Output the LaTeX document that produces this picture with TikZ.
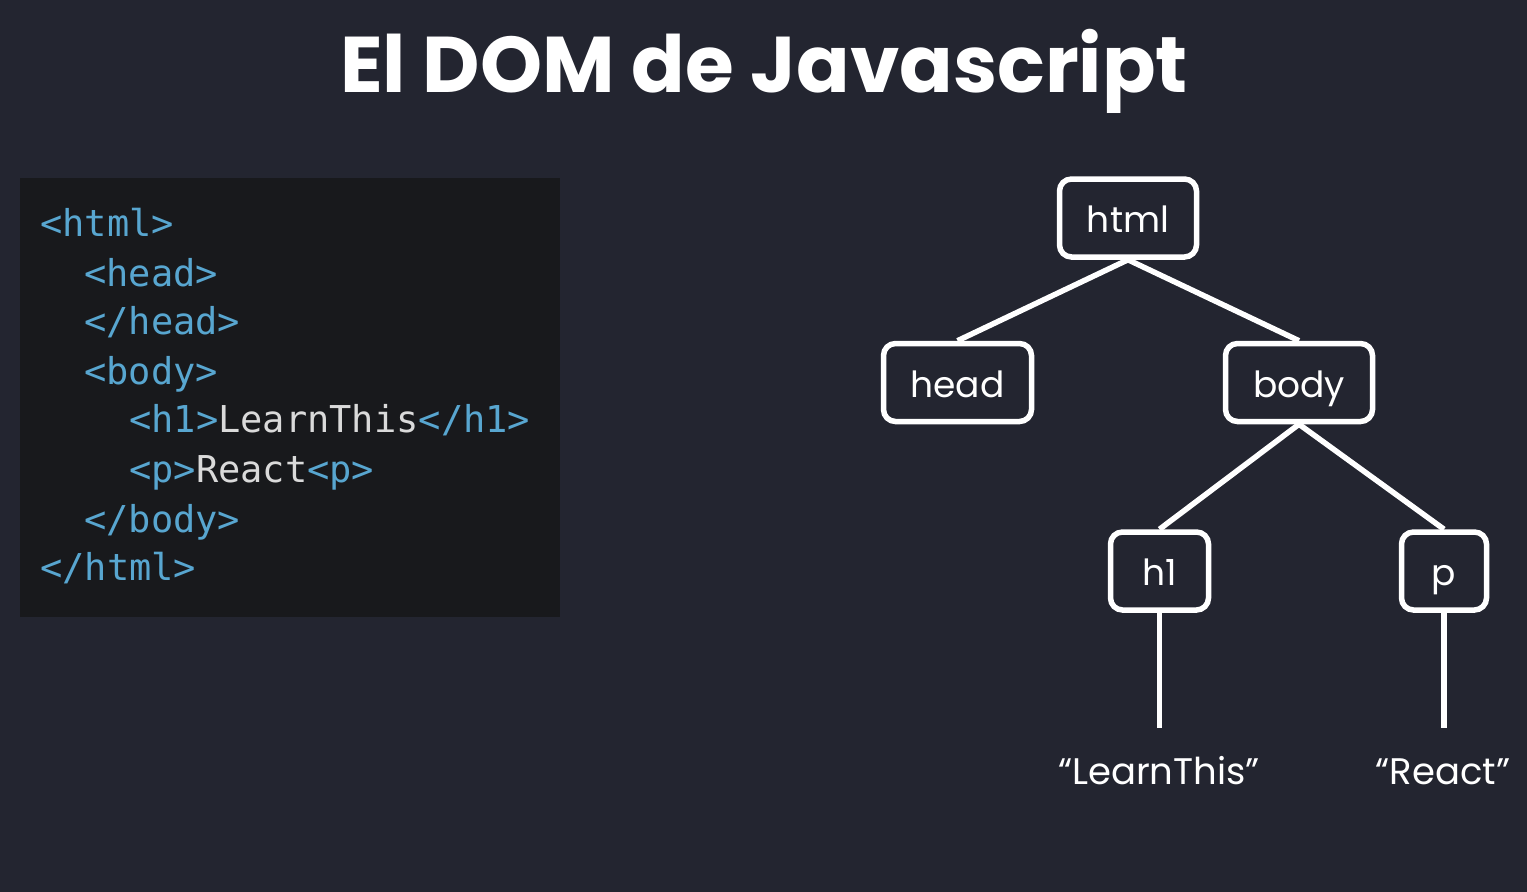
\documentclass[tikz,border=0pt]{standalone}
\usepackage{fontspec}
\newfontfamily\pop{Poppins}
\newfontfamily\mono{DejaVu Sans Mono}
\definecolor{bg}{RGB}{35,37,48}
\definecolor{codebg}{RGB}{24,25,28}
\definecolor{tag}{RGB}{88,166,208}
\definecolor{txt}{RGB}{218,218,218}
\tikzset{
  domnode/.style={draw=white, line width=5.5pt, rounded corners=12pt, inner sep=0pt,
    text=white, font=\pop\fontsize{36pt}{36pt}\selectfont, minimum height=78pt,
    text height=30pt, text depth=1pt},
  edge/.style={draw=white, line width=5.5pt},
  leaf/.style={text=white, font=\pop\fontsize{37pt}{37pt}\selectfont, inner sep=0pt, anchor=base},
  codeline/.style={anchor=base west, inner sep=0pt, text=tag, font=\mono\fontsize{37pt}{37pt}\selectfont}
}
\begin{document}
\begin{tikzpicture}[x=1pt,y=-1pt]
\fill[bg] (0,0) rectangle (1527,892);
\useasboundingbox (0,0) rectangle (1527,892);
\node[anchor=base, inner sep=0pt, text=white, font=\pop\bfseries\fontsize{79pt}{79pt}\selectfont] (title) at (764,92) {El DOM de Javascript};
\fill[codebg] (20,178) rectangle (560,617);
\node[codeline] (c1) at (40,236) {<html>};
\node[codeline] (c2) at (84,286) {<head>};
\node[codeline] (c3) at (84,334) {</head>};
\node[codeline] (c4) at (84,384) {<body>};
\node[codeline] (c5) at (129,432) {<h1>\textcolor{txt}{LearnThis}</h1>};
\node[codeline] (c6) at (129,482) {<p>\textcolor{txt}{React}<p>};
\node[codeline] (c7) at (84,532) {</body>};
\node[codeline] (c8) at (40,580) {</html>};
\node[domnode, minimum width=137pt] (html) at (1128,218) {html};
\node[domnode, minimum width=148pt] (head) at (957.5,382.5) {head};
\node[domnode, minimum width=147pt] (body) at (1299,382.5) {body};
\node[domnode, minimum width=98pt] (h1) at (1159.5,571) {h1};
\node[domnode, minimum width=85pt] (p) at (1444,571) {p};
\coordinate (e1) at (1159.5,728);
\coordinate (e2) at (1444,728);
\node[leaf] (l1) at (1159,784) {“LearnThis”};
\node[leaf] (l2) at (1443,784) {“React”};
\draw[edge] (html.south) -- (head.north);
\draw[edge] (html.south) -- (body.north);
\draw[edge] (body.south) -- (h1.north);
\draw[edge] (body.south) -- (p.north);
\draw[edge] (h1.south) -- (e1);
\draw[edge] (p.south) -- (e2);
\end{tikzpicture}
\end{document}
